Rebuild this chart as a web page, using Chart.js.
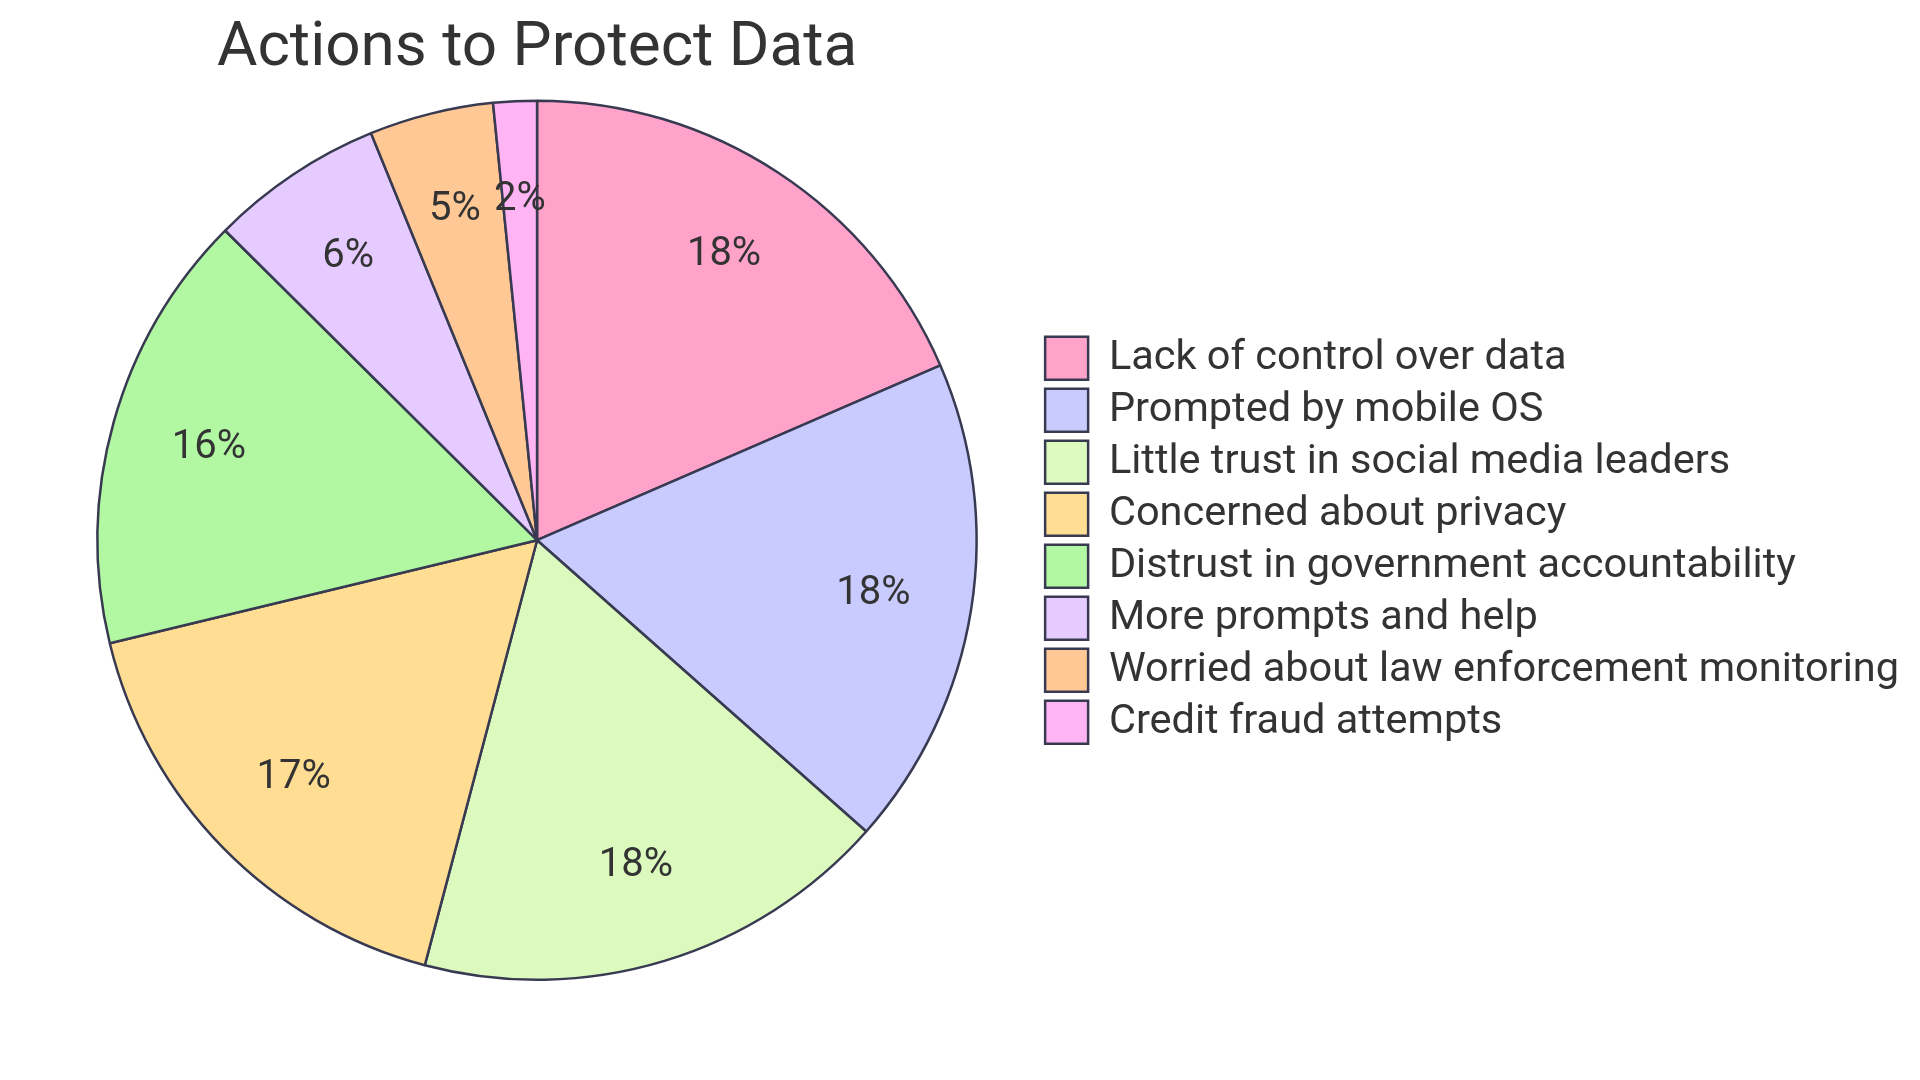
<!DOCTYPE html>
<html>
<head>
<meta charset="utf-8">
<title>Actions to Protect Data</title>
<script src="https://cdn.jsdelivr.net/npm/chart.js@4"></script>
<style>
    html, body { margin: 0; padding: 0; background: #fff; }
    #wrap { width: 1920px; height: 1080px; }
</style>
</head>
<body>
<div id="wrap"><canvas id="pie" width="1920" height="1080"></canvas></div>
<script>
const labels = [
    'Lack of control over data',
    'Prompted by mobile OS',
    'Little trust in social media leaders',
    'Concerned about privacy',
    'Distrust in government accountability',
    'More prompts and help',
    'Worried about law enforcement monitoring',
    'Credit fraud attempts'
];
const values = [81, 79, 77, 75, 71, 28, 20, 7];
const colors = ['#FFA3CB', '#C9CBFF', '#DCFABE', '#FFDE93', '#B2F8A3', '#E5CBFF', '#FFC894', '#FFB4F4'];

const textColor = '#333333';
const fontFamily = 'Roboto, "Noto Sans", sans-serif';
const total = values.reduce((a, b) => a + b, 0);

// percent text inside each slice, placed along the slice's middle angle
const sliceLabels = {
    id: 'sliceLabels',
    afterDatasetsDraw(chart) {
        let ctx = chart.ctx;
        let meta = chart.getDatasetMeta(0);
        ctx.save();
        ctx.font = '40px ' + fontFamily;
        ctx.fillStyle = textColor;
        ctx.textAlign = 'center';
        ctx.textBaseline = 'middle';
        meta.data.forEach((arc, i) => {
            let p = arc.getProps(['x', 'y', 'startAngle', 'endAngle', 'outerRadius'], true);
            let mid = (p.startAngle + p.endAngle) / 2;
            let r = p.outerRadius * 0.775;
            let pct = Math.round(values[i] / total * 100) + '%';
            ctx.fillText(pct, p.x + Math.cos(mid) * r, p.y + Math.sin(mid) * r);
        });
        ctx.restore();
    }
};

const chart = new Chart(
    document.getElementById('pie'),
    {
        type: 'pie',
        data: {
            labels: labels,
            datasets: [
                {
                    data: values,
                    backgroundColor: colors,
                    borderColor: '#383a52',
                    borderWidth: 2.5
                }
            ]
        },
        options: {
            responsive: false,
            animation: false,
            devicePixelRatio: 1,
            layout: {
                padding: { left: 38, right: 11, top: 0, bottom: 99 }
            },
            plugins: {
                title: {
                    display: true,
                    text: 'Actions to Protect Data',
                    fullSize: false,
                    color: textColor,
                    font: { family: fontFamily, size: 62, weight: 'normal' },
                    padding: { top: 12, bottom: 13 }
                },
                legend: {
                    position: 'right',
                    fullSize: false,
                    labels: {
                        color: textColor,
                        font: { family: fontFamily, size: 41.5 },
                        boxWidth: 43,
                        boxHeight: 43,
                        padding: 9
                    }
                },
                tooltip: { enabled: false }
            }
        },
        plugins: [sliceLabels]
    }
);
</script>
</body>
</html>
